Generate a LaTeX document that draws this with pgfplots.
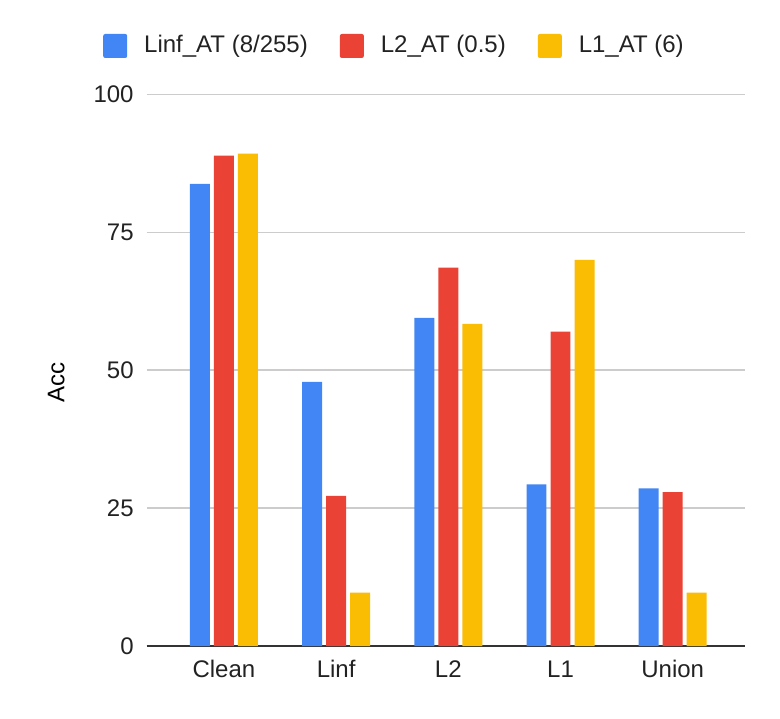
\documentclass[border=0pt]{standalone}
\usepackage{fontspec}
\setmainfont{Liberation Sans}
\usepackage{pgfplots}
\pgfplotsset{compat=1.18}

\definecolor{cBlue}{HTML}{4285F4}
\definecolor{cRed}{HTML}{EA4335}
\definecolor{cYellow}{HTML}{FBBC04}
\definecolor{cGrid}{HTML}{CCCCCC}
\definecolor{cAxis}{HTML}{333333}
\definecolor{cText}{HTML}{222222}

\begin{document}
\fontsize{12}{14}\selectfont
\begin{tikzpicture}
\useasboundingbox (0,0) rectangle (390pt,359pt);
\begin{axis}[
    at={(73.25pt,36pt)}, anchor=south west,
    scale only axis,
    width=299pt, height=275.75pt,
    xmin=-0.69, xmax=4.64,
    ymin=0, ymax=100,
    xtick={0,1,2,3,4},
    xticklabels={Clean,Linf,L2,L1,Union},
    ytick={0,25,50,75,100},
    ymajorgrids,
    grid style={cGrid, line width=0.8pt},
    major tick length=0pt,
    axis x line*=bottom, axis y line*=left,
    x axis line style={cAxis, line width=1pt, -},
    y axis line style={draw=none},
    /pgf/number format/assume math mode=true,
    tick label style={font=\fontsize{12}{14}\selectfont, text=cText},
    yticklabel style={anchor=east, inner sep=0pt, xshift=-6.25pt},
    xticklabel style={anchor=base, inner sep=0pt, yshift=-15.5pt},
    ylabel={Acc},
    ylabel style={font=\fontsize{12}{14}\selectfont, text=cText},
    every axis y label/.style={at={(axis description cs:-0.151,0.477)}, rotate=90, anchor=center},
    legend columns=3,
    legend style={draw=none, fill=none, at={(0.413,1.088)}, anchor=center,
        font=\fontsize{12}{14}\selectfont, text=cText,
        nodes={inner sep=0pt},
        /tikz/every odd column/.append style={column sep=8.5pt},
        /tikz/every even column/.append style={column sep=16pt}},
]
\addplot[ybar, bar width=0.178, bar shift=-0.214, fill=cBlue, draw=none,
    legend image code/.code={\fill[cBlue, rounded corners=1pt] (0pt,-6pt) rectangle (12pt,6pt);}]
    coordinates {(0,83.8) (1,47.9) (2,59.5) (3,29.3) (4,28.6)};
\addlegendentry{Linf\_AT (8/255)}
\addplot[ybar, bar width=0.178, bar shift=0, fill=cRed, draw=none,
    legend image code/.code={\fill[cRed, rounded corners=1pt] (0pt,-6pt) rectangle (12pt,6pt);}]
    coordinates {(0,88.9) (1,27.2) (2,68.6) (3,57.0) (4,27.9)};
\addlegendentry{L2\_AT (0.5)}
\addplot[ybar, bar width=0.178, bar shift=0.214, fill=cYellow, draw=none,
    legend image code/.code={\fill[cYellow, rounded corners=1pt] (0pt,-6pt) rectangle (12pt,6pt);}]
    coordinates {(0,89.3) (1,9.7) (2,58.4) (3,70.0) (4,9.7)};
\addlegendentry{L1\_AT (6)}
\end{axis}
\end{tikzpicture}
\end{document}
